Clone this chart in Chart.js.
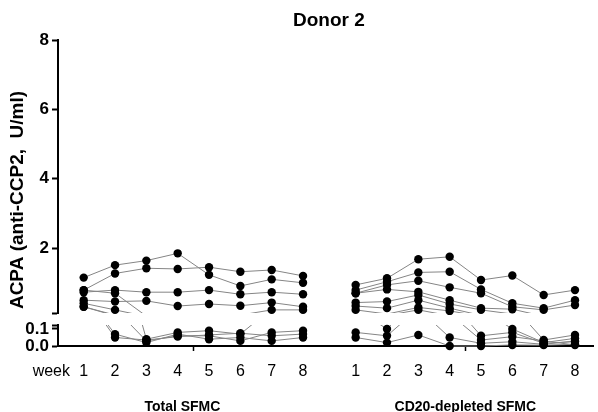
<!DOCTYPE html>
<html><head><meta charset="utf-8">
<script src="https://cdn.jsdelivr.net/npm/chart.js@4.4.1/dist/chart.umd.min.js"></script>
<style>html,body{margin:0;padding:0;background:#fff;}#wrap{width:598px;height:412px;position:relative;}</style>
</head><body><div id="wrap"><canvas id="c" width="598" height="412" style="width:598px;height:412px;"></canvas></div>
<script>
const chartTitle = 'Donor 2';
const yAxisTitle = 'ACPA (anti-CCP2,  U/ml)';
const xPrefix = 'week';
const weekLabels = ['1','2','3','4','5','6','7','8'];
const groupNames = ['Total SFMC', 'CD20-depleted SFMC'];
const upperTicks = [2, 4, 6, 8];
const lowerTicks = [0.0, 0.1];
const upperRange = [0.13, 8];
const lowerRange = [0, 0.1235];

// Total SFMC, one array per culture
const totalS1 = [1.15, 1.51, 1.64, 1.85, 1.23, 0.91, 1.10, 1.00];
const totalS2 = [0.79, 1.27, 1.42, 1.40, 1.45, 1.32, 1.37, 1.20];
const totalS3 = [0.73, 0.79, 0.73, 0.73, 0.79, 0.67, 0.73, 0.67];
const totalS4 = [0.50, 0.46, 0.48, 0.33, 0.39, 0.34, 0.43, 0.31];
const totalS5 = [0.79, 0.70, 0.04, 0.08, 0.09, 0.07, 0.22, 0.22];
const totalS6 = [0.41, 0.22, 0.03, 0.06, 0.06, 0.03, 0.08, 0.09];
const totalS7 = [0.31, 0.07, 0.02, 0.07, 0.04, 0.05, 0.03, 0.05];
const totalS8 = [0.31, 0.05, 0.035, 0.055, 0.065, 0.075, 0.06, 0.07];

// CD20-depleted SFMC
const cd20S1 = [0.94, 1.13, 1.68, 1.75, 1.08, 1.21, 0.65, 0.79];
const cd20S2 = [0.79, 1.03, 1.30, 1.32, 0.81, 0.41, 0.27, 0.50];
const cd20S3 = [0.70, 0.94, 1.06, 0.87, 0.70, 0.31, 0.22, 0.36];
const cd20S4 = [0.70, 0.81, 0.74, 0.50, 0.27, 0.24, 0.035, 0.065];
const cd20S5 = [0.43, 0.46, 0.65, 0.39, 0.22, 0.10, 0.02, 0.045];
const cd20S6 = [0.33, 0.27, 0.50, 0.27, 0.06, 0.08, 0.016, 0.025];
const cd20S7 = [0.22, 0.10, 0.29, 0.19, 0.035, 0.055, 0.03, 0.006];
const cd20S8 = [0.08, 0.06, 0.22, 0.05, 0.016, 0.025, 0.01, 0.03];
const cd20S9 = [0.05, 0.02, 0.065, 0.0, 0.0, 0.006, 0.005, 0.01];

const totalSeries = [totalS1, totalS2, totalS3, totalS4, totalS5, totalS6, totalS7, totalS8];
const cd20Series = [cd20S1, cd20S2, cd20S3, cd20S4, cd20S5, cd20S6, cd20S7, cd20S8, cd20S9];

const groupStep = 8.68;
const xOf = (g, i) => 1 + i + g * groupStep;
const FONT = '"Liberation Sans", Arial, sans-serif';

const datasets = [];
function addSeries(g, arr, pass) {
  const pts = arr.map((v, i) => ({x: xOf(g, i), y: v}));
  for (const axis of ['yUp', 'yLow']) {
    const inSeg = axis === 'yUp' ? (v => v >= upperRange[0]) : (v => v <= lowerRange[1]);
    let clip;
    if (pass === 'point') clip = 8;
    else clip = axis === 'yUp' ? {left: 8, right: 8, top: 8, bottom: 0} : {left: 8, right: 8, top: 0, bottom: 8};
    datasets.push({
      data: pts, yAxisID: axis, xAxisID: 'x', clip,
      showLine: pass === 'line', borderColor: '#858585', borderWidth: 1,
      pointRadius: pass === 'line' ? 0 : (c => (c.raw && inSeg(c.raw.y)) ? 4.2 : 0),
      pointHoverRadius: 0,
      pointBackgroundColor: '#000', pointBorderColor: '#000', pointBorderWidth: 0,
      tension: 0, fill: false
    });
  }
}
// Chart.js paints the first dataset last, so points go first to sit above the lines
for (const pass of ['point', 'line']) {
  totalSeries.forEach(a => addSeries(0, a, pass));
  cd20Series.forEach(a => addSeries(1, a, pass));
}

const xTickVals = [];
const xTickText = [];
[0, 1].forEach(g => {
  weekLabels.forEach((w, i) => { xTickVals.push(xOf(g, i)); xTickText.push(w); });
  xTickVals.push(xOf(g, (weekLabels.length - 1) / 2)); xTickText.push('');
});

const textPlugin = {
  id: 'texts',
  afterDraw(chart) {
    const ctx = chart.ctx, a = chart.chartArea, xs = chart.scales.x;
    ctx.save();
    ctx.fillStyle = '#000';
    ctx.textBaseline = 'middle';
    ctx.textAlign = 'center';
    ctx.font = 'bold 19px ' + FONT;
    ctx.fillText(chartTitle, (a.left + a.right) / 2 + 3, 21);
    ctx.save();
    ctx.translate(18, 200);
    ctx.rotate(-Math.PI / 2);
    ctx.font = 'bold 19px ' + FONT;
    ctx.fillText(yAxisTitle, 0, 0);
    ctx.restore();
    ctx.font = '16px ' + FONT;
    ctx.textAlign = 'right';
    ctx.fillText(xPrefix, 70, 372);
    ctx.textAlign = 'center';
    ctx.font = 'bold 14px ' + FONT;
    ctx.fillText(groupNames[0], xs.getPixelForValue(xOf(0, 3.15)), 407);
    ctx.fillText(groupNames[1], xs.getPixelForValue(xOf(1, 3.5)), 407);
    ctx.restore();
  }
};

new Chart(document.getElementById('c'), {
  type: 'line',
  data: {datasets},
  options: {
    responsive: false, maintainAspectRatio: false, animation: false, devicePixelRatio: 1,
    layout: {padding: {top: 40, left: 0, right: 0, bottom: 0}},
    plugins: {legend: {display: false}, tooltip: {enabled: false}, title: {display: false}},
    events: [],
    scales: {
      x: {
        type: 'linear', position: 'bottom', min: 0.18, max: 17.28,
        afterBuildTicks: s => { s.ticks = xTickVals.map(v => ({value: v})); },
        afterFit: s => { s.height = 66; },
        ticks: {autoSkip: false, maxRotation: 0, color: '#000', padding: 11,
          font: {family: FONT, size: 16},
          callback: (v, i) => xTickText[i]},
        grid: {display: true, drawOnChartArea: false, drawTicks: true, tickLength: 5, tickWidth: 1.5,
          tickColor: c => (c.index !== undefined && xTickText[c.index] === '') ? '#000' : 'rgba(0,0,0,0)'},
        border: {display: true, color: '#000', width: 2}
      },
      yUp: {
        type: 'linear', position: 'left', stack: 'yy', stackWeight: 273, weight: 3,
        min: upperRange[0], max: upperRange[1],
        afterBuildTicks: s => { s.ticks = [upperRange[0]].concat(upperTicks).map(v => ({value: v})); },
        afterFit: s => { s.width = 58; },
        ticks: {autoSkip: false, color: '#000', padding: 3, font: {family: FONT, size: 17, weight: 'bold'},
          callback: v => upperTicks.includes(v) ? String(v) : ''},
        grid: {display: true, drawOnChartArea: false, drawTicks: true, tickLength: 6, tickWidth: 2, tickColor: '#000'},
        border: {display: true, color: '#000', width: 2}
      },
      ySpace: {
        type: 'linear', position: 'left', stack: 'yy', stackWeight: 12, weight: 2,
        afterFit: s => { s.width = 0; },
        ticks: {display: false}, grid: {display: false}, border: {display: false}
      },
      yLow: {
        type: 'linear', position: 'left', stack: 'yy', stackWeight: 21, weight: 1,
        min: lowerRange[0], max: lowerRange[1],
        afterBuildTicks: s => { s.ticks = lowerTicks.concat([lowerRange[1]]).map(v => ({value: v})); },
        afterFit: s => { s.width = 58; },
        ticks: {autoSkip: false, color: '#000', padding: 3, font: {family: FONT, size: 17, weight: 'bold'},
          callback: v => lowerTicks.includes(v) ? v.toFixed(1) : ''},
        grid: {display: true, drawOnChartArea: false, drawTicks: true, tickLength: 6, tickWidth: 2, tickColor: '#000'},
        border: {display: true, color: '#000', width: 2}
      }
    }
  },
  plugins: [textPlugin]
});
</script></body></html>
